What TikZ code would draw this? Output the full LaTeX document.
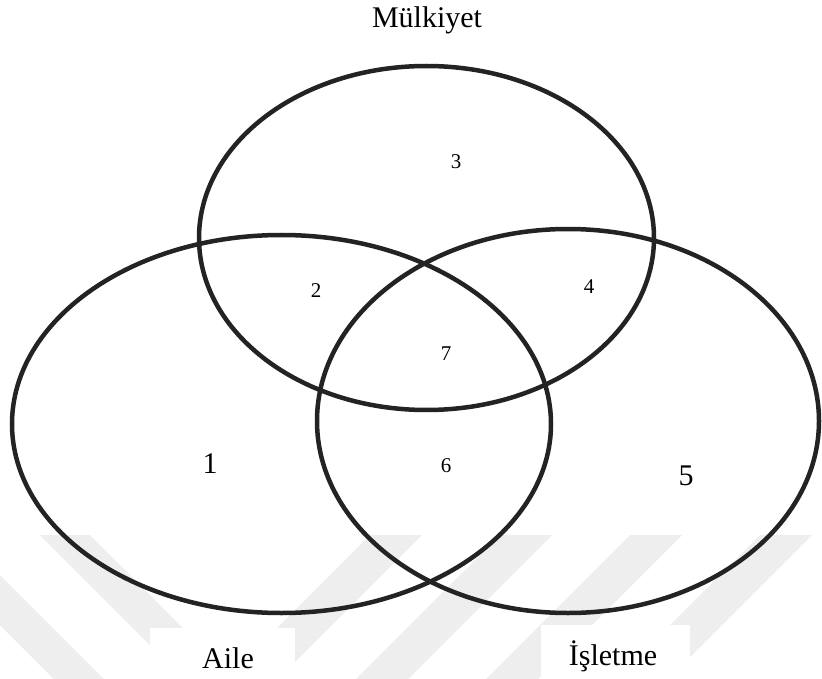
\documentclass[tikz,border=0pt]{standalone}
\usepackage{fontspec}
\setmainfont{Liberation Serif}
\usetikzlibrary{shapes.geometric}
\definecolor{ink}{RGB}{35,35,35}
\definecolor{mark}{RGB}{238,238,238}
\tikzset{
  setring/.style={ellipse, draw=ink, line width=4.5pt, inner sep=0pt},
  biglabel/.style={anchor=base, inner sep=0pt, font=\fontsize{30}{36}\selectfont},
  smallnum/.style={anchor=base, inner sep=0pt, font=\fontsize{21}{25}\selectfont},
  stripe/.style={fill=mark, draw=none},
}
\begin{document}
\begin{tikzpicture}[x=1pt,y=-1pt]
\useasboundingbox (0,0) rectangle (822,679);
\fill[white] (0,0) rectangle (822,679);
% faint background watermark stripes
\foreach \s in {370,500,630,760}{
  \fill[stripe] (\s,535) -- ++(52,0) -- ++(-144,144) -- ++(-52,0) -- cycle;
}
\foreach \s in {-90,40}{
  \fill[stripe] (\s,535) -- ++(50,0) -- ++(144,144) -- ++(-50,0) -- cycle;
}
% white boxes behind the lower labels
\fill[white] (150,628) rectangle (295,679);
\fill[white] (541,625) rectangle (690,679);
% sets
\node[setring, minimum width=455pt, minimum height=344pt] (own) at (426.5,238) {};
\node[setring, minimum width=539pt, minimum height=378pt] (fam) at (281.5,424) {};
\node[setring, minimum width=502pt, minimum height=384pt] (bus) at (568,421) {};
% set labels
\node[biglabel] (lown) at (427,28) {Mülkiyet};
\node[biglabel] (lfam) at (228,668) {Aile};
\node[biglabel] (lbus) at (613,665) {İşletme};
% region numbers
\node[biglabel] (r1) at (210,473) {1};
\node[smallnum] (r2) at (316,297) {2};
\node[smallnum] (r3) at (456,169) {3};
\node[smallnum] (r4) at (589,293) {4};
\node[biglabel] (r5) at (686,485) {5};
\node[smallnum] (r6) at (446,472) {6};
\node[smallnum] (r7) at (446,360) {7};
\end{tikzpicture}
\end{document}
